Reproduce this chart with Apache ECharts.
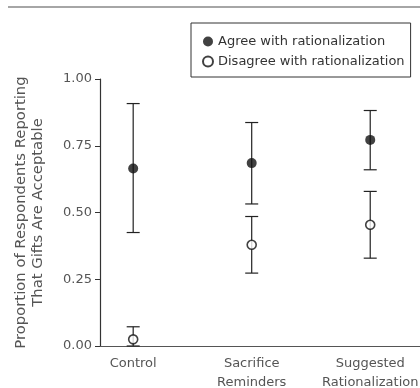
<!DOCTYPE html>
<html>
<head>
<meta charset="utf-8">
<script src="https://cdn.jsdelivr.net/npm/echarts@6/dist/echarts.min.js"></script>
<style>html,body{margin:0;padding:0;background:#fff;}#c{width:420px;height:388px;}</style>
</head>
<body>
<div id="c"></div>
<script>
var categories = ['Control', 'Sacrifice\nReminders', 'Suggested\nRationalization'];
var seriesNames = ['Agree with rationalization', 'Disagree with rationalization'];
var agreeMean = [0.665, 0.685, 0.772];
var agreeLow = [0.425, 0.532, 0.660];
var agreeHigh = [0.908, 0.837, 0.882];
var disagreeMean = [0.025, 0.379, 0.454];
var disagreeLow = [0.000, 0.273, 0.329];
var disagreeHigh = [0.072, 0.485, 0.579];
var yTicks = [0, 0.25, 0.5, 0.75, 1.0];

var FONT = '"DejaVu Sans", sans-serif';
var chart = echarts.init(document.getElementById('c'));

function errData(low, high) {
  return categories.map(function (c, i) { return [i, low[i], high[i]]; });
}
function renderErr(params, api) {
  var x = api.value(0);
  var lo = api.coord([x, api.value(1)]);
  var hi = api.coord([x, api.value(2)]);
  var hw = 6.5;
  var st = { stroke: '#222', lineWidth: 1.2 };
  return {
    type: 'group',
    children: [
      { type: 'line', shape: { x1: hi[0], y1: hi[1], x2: lo[0], y2: lo[1] }, style: st },
      { type: 'line', shape: { x1: hi[0] - hw, y1: hi[1], x2: hi[0] + hw, y2: hi[1] }, style: st },
      { type: 'line', shape: { x1: lo[0] - hw, y1: lo[1], x2: lo[0] + hw, y2: lo[1] }, style: st }
    ]
  };
}

chart.setOption({
  animation: false,
  backgroundColor: '#fff',
  grid: { left: 100, right: 0, top: 79, bottom: 42, containLabel: false, outerBoundsMode: 'none' },
  graphic: [{
    type: 'line', shape: { x1: 8, y1: 7, x2: 420, y2: 7 },
    style: { stroke: '#888', lineWidth: 1.5 }
  }],
  legend: {
    orient: 'vertical',
    left: 191, top: 23,
    padding: [11, 6, 8, 11],
    borderColor: '#333', borderWidth: 1,
    itemWidth: 10, itemHeight: 10, itemGap: 5,
    textStyle: { fontFamily: FONT, fontSize: 13, color: '#333', lineHeight: 15 },
    data: seriesNames
  },
  xAxis: {
    type: 'value', min: -0.28, max: 2.42,
    splitLine: { show: false },
    axisLine: { show: true, onZero: false, lineStyle: { color: '#555', width: 1.2 } },
    axisTick: { show: false },
    axisLabel: {
      customValues: [0, 1, 2],
      formatter: function (v) { return categories[Math.round(v)]; },
      fontFamily: FONT, fontSize: 13, color: '#555', lineHeight: 19, margin: 8
    }
  },
  yAxis: {
    type: 'value', min: 0, max: 1, interval: 0.25,
    splitLine: { show: false },
    axisLine: { show: true, onZero: false, lineStyle: { color: '#333', width: 1.2 } },
    axisTick: { show: true, length: 5, lineStyle: { color: '#333' },
      customValues: yTicks },
    axisLabel: {
      customValues: yTicks,
      formatter: function (v) { return v.toFixed(2); },
      fontFamily: FONT, fontSize: 13, color: '#555', margin: 8
    },
    name: 'Proportion of Respondents Reporting\nThat Gifts Are Acceptable',
    nameLocation: 'middle', nameGap: 53,
    nameTextStyle: { fontFamily: FONT, fontSize: 14.8, color: '#555', lineHeight: 17 }
  },
  series: [
    { type: 'custom', renderItem: renderErr, data: errData(agreeLow, agreeHigh), z: 2, silent: true },
    { type: 'custom', renderItem: renderErr, data: errData(disagreeLow, disagreeHigh), z: 2, silent: true },
    {
      name: seriesNames[0], type: 'scatter', symbol: 'circle', symbolSize: 10, z: 5,
      itemStyle: { color: '#111' },
      data: agreeMean.map(function (v, i) { return [i, v]; })
    },
    {
      name: seriesNames[1], type: 'scatter', symbol: 'circle', symbolSize: 9, z: 5,
      itemStyle: { color: '#fff', borderColor: '#111', borderWidth: 1.6 },
      data: disagreeMean.map(function (v, i) { return [i, v]; })
    }
  ]
});
</script>
</body>
</html>
